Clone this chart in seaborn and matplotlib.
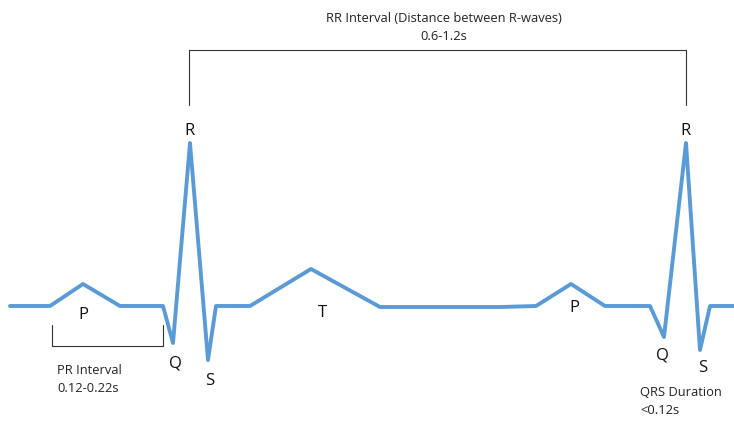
import matplotlib
matplotlib.use("Agg")
import matplotlib.pyplot as plt
import seaborn as sns
import pandas as pd

sns.set_style("white")
plt.rcParams['font.family'] = ['Open Sans', 'DejaVu Sans']

# ECG trace (pixel-like coordinates, y grows downward)
ecg_x = [10, 50, 83, 120, 163, 173, 190, 208, 216, 250, 311, 380, 500, 536, 571, 605, 650, 664, 686, 700, 710, 734]
ecg_y = [306, 306, 284, 306, 306, 343, 143, 360, 306, 306, 269, 307, 307, 306, 284, 306, 306, 337, 143, 350, 306, 306]

wave_labels = ["P", "Q", "R", "S", "T", "P", "Q", "R", "S"]
wave_x = [83, 175, 189, 210, 322, 574, 662, 685, 703]
wave_y = [315, 363, 131, 381, 313, 308, 356, 131, 368]

fig = plt.figure(figsize=(7.34, 4.22), dpi=100)
ax = fig.add_axes([0, 0, 1, 1])
df = pd.DataFrame({"x": list(range(len(ecg_x))), "px": ecg_x, "py": ecg_y})
sns.lineplot(data=df, x="px", y="py", sort=False, estimator=None, color="#5b9bd5", linewidth=2.8, ax=ax)

for t, x, y in zip(wave_labels, wave_x, wave_y):
    ax.text(x, y, t, fontsize=12, ha="center", va="center", color="#111111")

k = dict(color="#333333", linewidth=0.8)
ax.plot([189, 189, 686, 686], [105, 50, 50, 105], **k)
ax.plot([52, 52, 163, 163], [325, 346, 346, 325], **k)

ts = dict(fontsize=9.3, color="#222222", va="center")
ax.text(444, 18, "RR Interval (Distance between R-waves)", ha="center", **ts)
ax.text(444, 37, "0.6-1.2s", ha="center", **ts)
ax.text(57, 371, "PR Interval", ha="left", **ts)
ax.text(57, 389, "0.12-0.22s", ha="left", **ts)
ax.text(640, 393, "QRS Duration", ha="left", **ts)
ax.text(640, 410, "<0.12s", ha="left", **ts)

ax.set_xlim(0, 734)
ax.set_ylim(422, 0)
ax.axis("off")
fig.savefig("out.png", dpi=100)
